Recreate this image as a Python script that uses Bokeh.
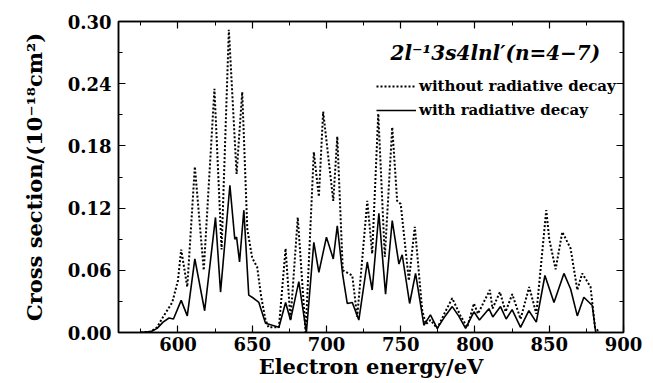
from bokeh.plotting import figure
from bokeh.models import (FixedTicker, PrintfTickFormatter, LinearAxis, Label,
                          Legend, LegendItem, Range1d, CustomLabelingPolicy)
from bokeh.embed import file_html
from bokeh.resources import INLINE

# ---- data ----
energy_without = [575, 582, 586, 590, 594, 596.2, 600, 602.2, 606.3, 611.4, 617.4,
                  624.6, 629.4, 634.3, 639.5, 643.3, 646.7, 650, 653.4, 656, 659,
                  661, 668, 672.5, 675.8, 680.7, 686, 691.5, 694.9, 697.8, 704.6,
                  707.3, 711, 717.4, 720.7, 727.5, 730.8, 734.9, 739.3, 744.3,
                  747.6, 750, 755.5, 759.5, 764.5, 767, 770, 774.6, 780, 784.7,
                  790.3, 794.8, 799.3, 802, 810, 811.8, 816.8, 820.6, 825.1, 830.7,
                  836.5, 841.3, 848, 850, 854.3, 858.8, 864.4, 868.9, 872.2, 877.8,
                  880.8, 884]
cs_without = [0.0, 0.001, 0.005, 0.015, 0.024, 0.029, 0.050, 0.080, 0.044, 0.160, 0.060,
              0.235, 0.080, 0.292, 0.153, 0.232, 0.100, 0.072, 0.063, 0.035, 0.012,
              0.005, 0.005, 0.081, 0.012, 0.111, 0.0, 0.174, 0.131, 0.213, 0.127,
              0.189, 0.060, 0.055, 0.015, 0.127, 0.076, 0.211, 0.073, 0.198,
              0.127, 0.124, 0.050, 0.102, 0.021, 0.008, 0.012, 0.004, 0.020, 0.033,
              0.016, 0.005, 0.028, 0.018, 0.041, 0.023, 0.039, 0.020, 0.037, 0.013,
              0.044, 0.018, 0.118, 0.090, 0.061, 0.097, 0.081, 0.041, 0.057, 0.044,
              0.005, 0.0]

energy_with = [575, 582, 586, 590, 594, 597, 602.2, 606.3, 611.4, 618, 625.3, 628.7,
               635, 638.3, 639.5, 641.5, 644.4, 647.7, 651, 654.5, 659, 668, 672.5,
               675.8, 681.4, 686.5, 691.5, 694.9, 700, 704.6, 707.3, 711, 714,
               717.4, 721.8, 727.5, 730.8, 735.3, 739.8, 744.3, 748.8, 751, 756,
               760, 765.6, 770, 774.6, 780, 784.7, 789, 793.7, 799.3, 803, 809.4,
               812, 817.2, 821, 825, 830.7, 836.3, 841.3, 847.1, 853.2, 859.9,
               864.4, 868.9, 873.3, 879, 881.3, 884]
cs_with = [0.0, 0.001, 0.004, 0.010, 0.014, 0.013, 0.031, 0.016, 0.071, 0.021, 0.111, 0.039,
           0.142, 0.090, 0.092, 0.068, 0.118, 0.036, 0.033, 0.029, 0.009, 0.005, 0.029,
           0.012, 0.049, 0.0, 0.087, 0.058, 0.092, 0.071, 0.103, 0.055, 0.028,
           0.029, 0.012, 0.068, 0.041, 0.115, 0.037, 0.108, 0.066, 0.075, 0.028,
           0.057, 0.007, 0.017, 0.004, 0.016, 0.025, 0.016, 0.004, 0.020, 0.012, 0.023,
           0.015, 0.025, 0.013, 0.022, 0.005, 0.021, 0.010, 0.055, 0.029, 0.057,
           0.042, 0.016, 0.034, 0.026, 0.0, 0.0]

x_ticks = [600, 650, 700, 750, 800, 850, 900]
x_minor_ticks = [575, 625, 675, 725, 775, 825, 875]
y_ticks = [0.0, 0.06, 0.12, 0.18, 0.24, 0.30]
y_minor_ticks = [0.03, 0.09, 0.15, 0.21, 0.27]

title_text = "2l\u207b\u00b93s4lnl\u2032(n=4\u22127)"
label_without = "without radiative decay"
label_with = "with radiative decay"
x_label = "Electron energy/eV"
y_label = "Cross section/(10\u207b\u00b9\u2078cm\u00b2)"

FONT = "DejaVu Serif"

p = figure(width=653, height=383, x_range=Range1d(560, 900), y_range=Range1d(0, 0.30),
           output_backend="svg", toolbar_location=None,
           min_border_left=118, min_border_right=30, min_border_top=21,
           min_border_bottom=51)
p.xgrid.visible = False
p.ygrid.visible = False
p.outline_line_color = "black"
p.outline_line_width = 1.5
p.background_fill_color = "white"
p.border_fill_color = "white"

xt = FixedTicker(ticks=x_ticks, minor_ticks=x_minor_ticks)
yt = FixedTicker(ticks=y_ticks, minor_ticks=y_minor_ticks)

no_labels = CustomLabelingPolicy(code="""
    const all = [...indices]
    for (const i of all) indices.unset(i)
    return indices
""")

def style_axis(ax, show_labels):
    ax.axis_line_color = "black"
    ax.axis_line_width = 1.5
    ax.major_tick_in = 7
    ax.major_tick_out = 0
    ax.minor_tick_in = 4
    ax.minor_tick_out = 0
    ax.major_tick_line_width = 1.2
    ax.minor_tick_line_width = 1.0
    ax.major_tick_line_color = "black"
    ax.minor_tick_line_color = "black"
    if show_labels:
        ax.major_label_text_font = FONT
        ax.major_label_text_font_style = "bold"
        ax.major_label_text_font_size = "18px"
        ax.major_label_text_color = "black"
        ax.axis_label_text_font = FONT
        ax.axis_label_text_font_style = "bold"
        ax.axis_label_text_font_size = "21px"
        ax.axis_label_text_color = "black"
    else:
        ax.major_label_policy = no_labels
        ax.major_label_standoff = 0

p.xaxis.ticker = xt
p.yaxis.ticker = yt
p.yaxis.formatter = PrintfTickFormatter(format="%.2f")
style_axis(p.xaxis[0], True)
style_axis(p.yaxis[0], True)
p.xaxis.axis_label = x_label
p.yaxis.axis_label = y_label
p.xaxis.major_label_standoff = 4
p.xaxis.axis_label_standoff = 0
p.yaxis.major_label_standoff = 7
p.yaxis.axis_label_standoff = 18

top_ax = LinearAxis(ticker=xt)
style_axis(top_ax, False)
p.add_layout(top_ax, "above")
right_ax = LinearAxis(ticker=yt)
style_axis(right_ax, False)
p.add_layout(right_ax, "right")

r1 = p.line(energy_without, cs_without, line_color="black", line_width=2.0,
            line_dash="2 2")
r2 = p.line(energy_with, cs_with, line_color="black", line_width=1.6)

legend = Legend(items=[LegendItem(label=label_without, renderers=[r1]),
                       LegendItem(label=label_with, renderers=[r2])],
                location=(258, 213), padding=0, margin=0, spacing=6,
                glyph_width=40, glyph_height=18, label_height=18, label_standoff=3,
                label_text_font=FONT, label_text_font_style="bold",
                label_text_font_size="15px", label_text_color="black",
                border_line_alpha=0, background_fill_alpha=0)
p.add_layout(legend)

p.add_layout(Label(x=272, y=280, x_units="screen", y_units="screen", text=title_text,
                   text_font=FONT, text_font_style="bold italic",
                   text_font_size="20px", text_baseline="middle", text_color="black"))

open("out.html", "w").write(file_html(p, INLINE))
